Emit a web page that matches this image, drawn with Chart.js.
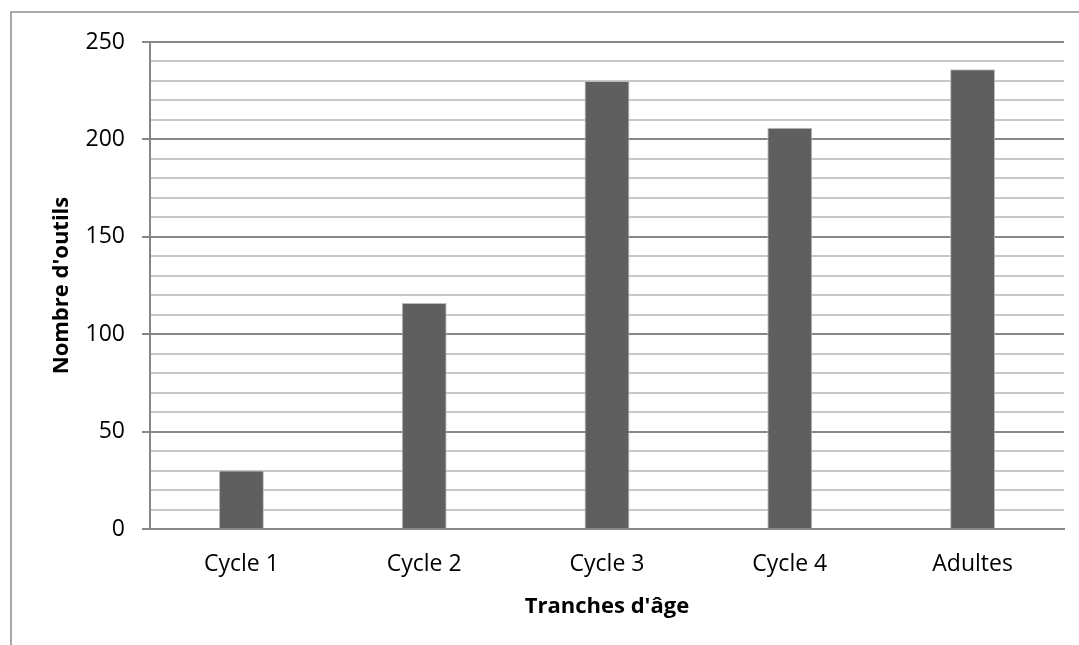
<!DOCTYPE html>
<html>
<head>
<meta charset="utf-8">
<script src="https://cdn.jsdelivr.net/npm/chart.js@4.4.1/dist/chart.umd.min.js"></script>
<style>
  html, body { margin: 0; padding: 0; background: #fff; }
  #wrap { position: relative; width: 1079px; height: 645px; }
</style>
</head>
<body>
<div id="wrap"><canvas id="chart"></canvas></div>
<script>
const categories = ['Cycle 1', 'Cycle 2', 'Cycle 3', 'Cycle 4', 'Adultes'];
const outils = [30, 116, 230, 206, 236];
const yTicks = [0, 50, 100, 150, 200, 250];

const FONT = "'Open Sans', sans-serif";

// outer frame of the chart box (top + left edges show in the picture)
const framePlugin = {
    id: 'frame',
    beforeDraw(chart) {
        const ctx = chart.ctx
        ctx.save()
        ctx.strokeStyle = '#8c8c8c'
        ctx.lineWidth = 1.5
        ctx.beginPath()
        ctx.moveTo(11, 645)
        ctx.lineTo(11, 12)
        ctx.lineTo(1079, 12)
        ctx.stroke()
        ctx.restore()
    }
}

const dataChart = {
    labels: categories,
    datasets: [
        {
            label: "Nombre d'outils",
            data: outils,
            backgroundColor: '#5f5f5f',
            borderColor: '#bdbdbd',
            borderWidth: 1,
            barPercentage: 0.246,
            categoryPercentage: 1
        }
    ]
};

const options = {
    responsive: false,
    animation: false,
    layout: {
        padding: { top: 42, right: 15, bottom: 0, left: 0 }
    },
    plugins: {
        legend: { display: false },
        tooltip: { enabled: false }
    },
    scales: {
        x: {
            grid: { display: false },
            border: { color: '#868686', width: 2 },
            ticks: {
                color: '#000',
                padding: 14,
                font: { family: FONT, size: 23 }
            },
            title: {
                display: true,
                text: "Tranches d'âge",
                color: '#000',
                font: { family: FONT, size: 22, weight: 'bold' },
                padding: { top: 0, bottom: 25 }
            },
            afterFit(scale) { scale.height = 116 }
        },
        y: {
            min: 0,
            max: 250,
            border: { color: '#868686', width: 2 },
            grid: {
                color: (c) => c.tick && c.tick.value % 50 === 0 ? '#868686' : '#c8c8c8',
                lineWidth: 2,
                tickColor: (c) => c.tick && c.tick.value % 50 === 0 ? '#868686' : 'rgba(0,0,0,0)',
                tickLength: 8
            },
            ticks: {
                stepSize: 10,
                autoSkip: false,
                color: '#000',
                padding: 17,
                font: { family: FONT, size: 23 },
                callback: (v) => yTicks.includes(v) ? v : ''
            },
            title: {
                display: true,
                text: "Nombre d'outils",
                color: '#000',
                font: { family: FONT, size: 22, weight: 'bold' },
                padding: { top: 49, bottom: 0 }
            },
            afterFit(scale) { scale.width = 150 }
        }
    }
}

const canvas = document.getElementById('chart')
canvas.width = 1079
canvas.height = 645

new Chart(canvas, {
    type: 'bar',
    data: dataChart,
    options: options,
    plugins: [framePlugin]
});
</script>
</body>
</html>
